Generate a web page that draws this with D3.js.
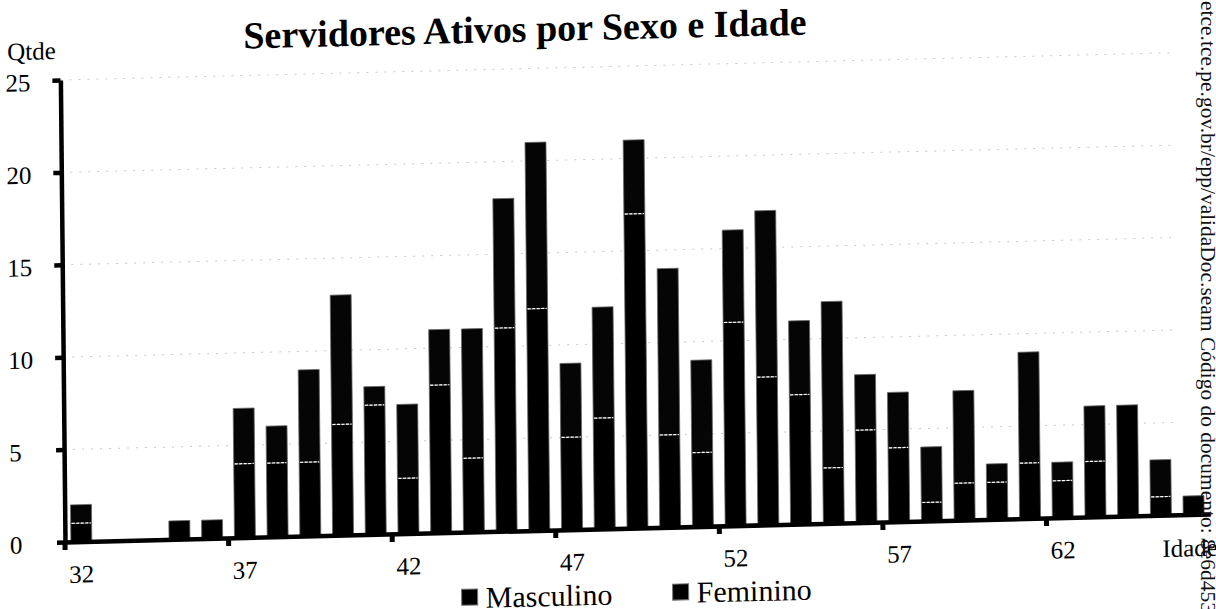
<!DOCTYPE html>
<html>
<head>
<meta charset="utf-8">
<script src="https://cdn.jsdelivr.net/npm/d3@7"></script>
<style>
  body { margin: 0; background: #fff; }
  svg { display: block; }
  text { font-family: "Liberation Serif", "Times New Roman", serif; fill: #000; }
</style>
</head>
<body>
<div id="chart"></div>
<script>
// ages (categories)
const ages = [32,33,34,35,36,37,38,39,40,41,42,43,44,45,46,47,48,49,50,51,52,53,54,55,56,57,58,59,60,61,62,63,64,65,66];
// series values
const masculino = [1,0,0,1,1,4,4,4,6,7,3,8,4,11,12,5,6,17,5,4,11,8,7,3,5,4,1,2,2,3,2,3,6,1,1];
const feminino  = [1,0,0,0,0,3,2,5,7,1,4,3,7,7,9,4,6,4,9,5,5,9,4,9,3,3,3,5,1,6,1,3,0,2,0];
const seriesNames = ['Masculino', 'Feminino'];
// tick labels
const xTicks = [32,37,42,47,52,57,62];
const yTicks = [0,5,10,15,20,25];

const W = 1216, H = 609;
const x0 = 65, x1 = 1210, yBase = 542, yTop = 80;

const svg = d3.select('#chart').append('svg')
  .attr('width', W).attr('height', H);

// the scanned page is slightly tilted: rotate/shear round the chart origin
const g = svg.append('g')
  .attr('transform', `translate(${x0},${yBase}) matrix(1,-0.0245,0.01,1,0,0) translate(${-x0},${-yBase})`);

const x = d3.scaleBand().domain(ages).range([x0, x1]).paddingInner(0.36).paddingOuter(0.18);
const y = d3.scaleLinear().domain([0, 25]).range([yBase, yTop]);

// gridlines
g.append('g').selectAll('line')
  .data(yTicks.filter(d => d > 0))
  .join('line')
  .attr('x1', x0).attr('x2', 1180)
  .attr('y1', d => y(d)).attr('y2', d => y(d))
  .attr('stroke', '#c8c8c8').attr('stroke-width', 1)
  .attr('stroke-dasharray', '2,7');

// stacked bars
const table = ages.map((a, i) => ({ age: a, Masculino: masculino[i], Feminino: feminino[i] }));
const stacked = d3.stack().keys(seriesNames)(table);

g.append('g').selectAll('g')
  .data(stacked)
  .join('g')
  .attr('fill', (d, i) => i === 0 ? '#000' : '#050505')
  .selectAll('rect')
  .data(d => d.filter(p => p[1] > p[0]))
  .join('rect')
  .attr('x', p => x(p.data.age))
  .attr('width', x.bandwidth())
  .attr('y', p => y(p[1]))
  .attr('height', p => y(p[0]) - y(p[1]))
  .attr('stroke', '#666').attr('stroke-width', 0.8);

// white dashed seam between the two series
g.append('g').selectAll('line')
  .data(table.filter(d => d.Masculino > 0 && d.Feminino > 0))
  .join('line')
  .attr('x1', d => x(d.age) + 1).attr('x2', d => x(d.age) + x.bandwidth() - 1)
  .attr('y1', d => y(d.Masculino)).attr('y2', d => y(d.Masculino))
  .attr('stroke', '#fff').attr('stroke-width', 1.2)
  .attr('stroke-dasharray', '3,1.5');

// x axis
const xAxis = g.append('g')
  .attr('transform', `translate(0,${yBase})`)
  .call(d3.axisBottom(x).tickValues(xTicks).tickSize(0).tickSizeOuter(0).tickPadding(0))
  .attr('font-family', null).attr('font-size', null);
xAxis.select('.domain').attr('stroke', '#000').attr('stroke-width', 4.5);
xAxis.selectAll('.tick text')
  .attr('y', 41).attr('dy', null)
  .style('font-size', '25px');

// x tick marks on the band edges
g.append('g').selectAll('rect')
  .data(xTicks)
  .join('rect')
  .attr('x', d => x(d) - x.step() * 0.18 - 2.5)
  .attr('y', yBase)
  .attr('width', 5).attr('height', 8)
  .attr('fill', '#000');

// y axis
const yAxis = g.append('g')
  .attr('transform', `translate(${x0},0)`)
  .call(d3.axisLeft(y).tickValues(yTicks).tickSize(8).tickSizeOuter(0))
  .attr('font-family', null).attr('font-size', null);
yAxis.select('.domain').attr('stroke', '#000').attr('stroke-width', 4.5);
yAxis.selectAll('.tick line').attr('stroke', '#000').attr('stroke-width', 4.5);
yAxis.selectAll('.tick text')
  .attr('text-anchor', 'start')
  .attr('x', 10 - x0).attr('dy', null).attr('y', 10)
  .style('font-size', '25px');

// axis titles
g.append('text').attr('x', 12).attr('y', 59)
  .style('font-size', '25px').text('Qtde');
g.append('text').attr('x', 1162).attr('y', 584)
  .style('font-size', '25px').text('Idade');

// chart title
g.append('text').attr('x', 530).attr('y', 53)
  .attr('text-anchor', 'middle')
  .style('font-size', '38px').style('font-weight', 'bold')
  .text('Servidores Ativos por Sexo e Idade');

// legend
const legendX = [461, 672];
const legend = g.append('g').selectAll('g')
  .data(seriesNames)
  .join('g')
  .attr('transform', (d, i) => `translate(${legendX[i]},0)`);
legend.append('rect')
  .attr('x', 0).attr('y', 599).attr('width', 16).attr('height', 16)
  .attr('fill', '#000').attr('stroke', '#777').attr('stroke-width', 1);
legend.append('text')
  .attr('x', 24).attr('y', 618)
  .style('font-size', '30px')
  .text(d => d);

// validation stamp printed down the right margin of the scan
svg.append('text')
  .attr('transform', 'translate(1201,1) rotate(90)')
  .attr('textLength', 612).attr('lengthAdjust', 'spacingAndGlyphs')
  .style('font-size', '21px').style('fill', '#111')
  .text('etce.tce.pe.gov.br/epp/validaDoc.seam Código do documento: 8e6d453');
</script>
</body>
</html>
